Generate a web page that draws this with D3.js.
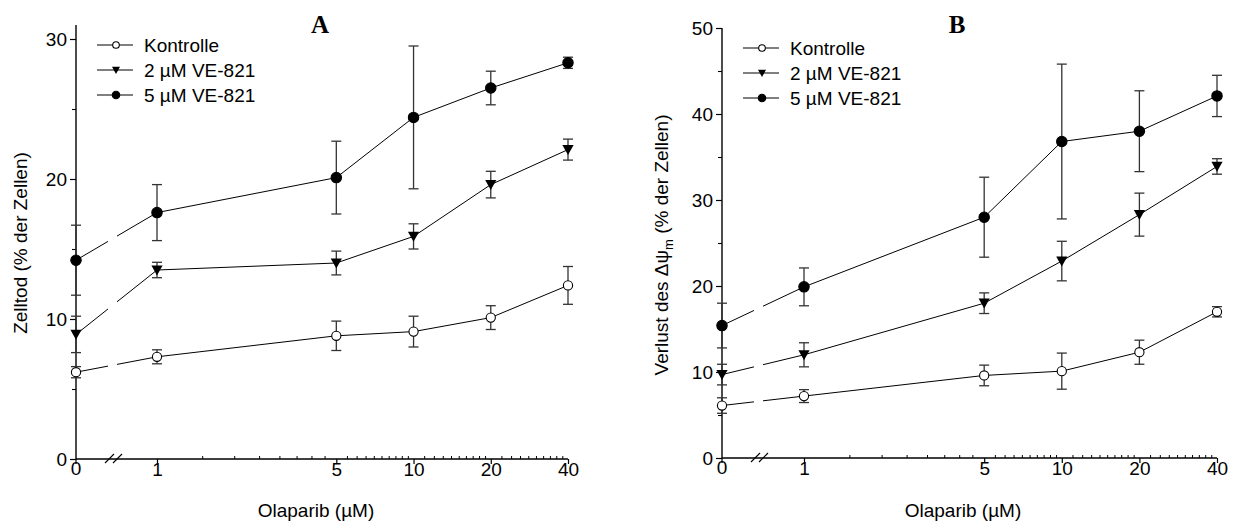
<!DOCTYPE html>
<html>
<head>
<meta charset="utf-8">
<script src="https://cdn.jsdelivr.net/npm/d3@7"></script>
<style>
  body { margin: 0; background: #fff; }
  text { font-family: "Liberation Sans", Arial, sans-serif; fill: #000; }
</style>
</head>
<body>
<div id="chart"></div>
<script>
"use strict";

// Olaparib doses (µM); 0 sits left of the axis break
const doses = [0, 1, 5, 10, 20, 40];
const seriesNames = ["Kontrolle", "2 µM VE-821", "5 µM VE-821"];
const xMajorTicks = [1, 5, 10, 20, 40];
const xMinorTicks = [1.5, 2, 2.5, 3, 3.5, 4, 4.5, 5.5, 6, 6.5, 7, 7.5, 8, 8.5, 9, 9.5,
  11, 12, 13, 14, 15, 16, 17, 18, 19, 22, 24, 26, 28, 30, 32, 34, 36, 38];

// panel A: Zelltod (% der Zellen)
const zelltodKontrolle = [6.2, 7.3, 8.8, 9.1, 10.1, 12.4];
const zelltodKontrolleSem = [0.4, 0.5, 1.05, 1.1, 0.85, 1.35];
const zelltod2uM = [8.9, 13.5, 14.0, 15.9, 19.6, 22.1];
const zelltod2uMSem = [1.3, 0.55, 0.85, 0.9, 0.95, 0.75];
const zelltod5uM = [14.2, 17.6, 20.1, 24.4, 26.5, 28.3];
const zelltod5uMSem = [2.5, 2.0, 2.6, 5.1, 1.2, 0.4];
const zelltodMajorTicks = [0, 10, 20, 30];
const zelltodMinorTicks = [5, 15, 25];

// panel B: Verlust des Δψm (% der Zellen)
const verlustKontrolle = [6.1, 7.2, 9.6, 10.1, 12.3, 17.0];
const verlustKontrolleSem = [0.9, 0.75, 1.2, 2.1, 1.4, 0.6];
const verlust2uM = [9.7, 12.0, 18.0, 22.9, 28.3, 33.9];
const verlust2uMSem = [1.2, 1.4, 1.2, 2.3, 2.5, 0.9];
const verlust5uM = [15.4, 19.9, 28.0, 36.8, 38.0, 42.1];
const verlust5uMSem = [2.6, 2.2, 4.65, 9.0, 4.7, 2.4];
const verlustMajorTicks = [0, 10, 20, 30, 40, 50];
const verlustMinorTicks = [5, 15, 25, 35, 45];

const W = 1234, H = 525;

const svg = d3.select("#chart").append("svg")
  .attr("width", W)
  .attr("height", H);

const markerKinds = ["open", "triangle", "filled"];

function drawMarker(g, kind, x, y, scale = 1) {
  if (kind === "triangle") {
    const a = 5.6 * scale, b = 4.6 * scale, c = 5.4 * scale;
    g.append("path")
      .attr("d", `M${x - a},${y - b}L${x + a},${y - b}L${x},${y + c}Z`)
      .attr("fill", "#000");
  } else {
    g.append("circle")
      .attr("cx", x).attr("cy", y)
      .attr("r", (kind === "open" ? 4.6 : 5.2) * scale)
      .attr("fill", kind === "open" ? "#fff" : "#000")
      .attr("stroke", "#000")
      .attr("stroke-width", 1.1);
  }
}

function drawPanel(cfg) {
  const g = svg.append("g");

  const xLog = d3.scaleLog().domain([1, 40]).range([cfg.x1, cfg.x40]);
  const xPos = d => d === 0 ? cfg.x0 : xLog(d);
  const y = d3.scaleLinear().domain([0, cfg.yTop]).range([cfg.y0, cfg.yTopPx]);
  const yEnd = cfg.yAxisMax;

  // y axis
  const yAx = g.append("g")
    .attr("transform", `translate(${cfg.x0},0)`)
    .call(d3.axisLeft(y).tickValues(cfg.yMajor).tickSize(6).tickSizeOuter(0));
  yAx.select(".domain").remove();
  yAx.selectAll("text").style("font-size", "19px").attr("fill", "#000");
  yAx.selectAll("line").attr("stroke-width", 1.2);
  const yMin = g.append("g")
    .attr("transform", `translate(${cfg.x0},0)`)
    .call(d3.axisLeft(y).tickValues(cfg.yMinor).tickSize(4).tickFormat(""));
  yMin.select(".domain").remove();
  yMin.selectAll("line").attr("stroke-width", 1.1);
  g.append("line")
    .attr("x1", cfg.x0).attr("x2", cfg.x0)
    .attr("y1", y(0)).attr("y2", y(yEnd))
    .attr("stroke", "#000").attr("stroke-width", 1.4);

  // x axis
  const xAx = g.append("g")
    .attr("transform", `translate(0,${cfg.y0})`)
    .call(d3.axisBottom(xLog).tickValues(xMajorTicks).tickSize(5).tickFormat(d3.format("d")));
  xAx.select(".domain").remove();
  xAx.selectAll("line").attr("stroke-width", 1.2);
  xAx.selectAll("text").style("font-size", "19px").attr("fill", "#000")
    .attr("y", 3).attr("dy", "0.71em");
  const xMin = g.append("g")
    .attr("transform", `translate(0,${cfg.y0})`)
    .call(d3.axisBottom(xLog).tickValues(xMinorTicks).tickSize(-3).tickFormat(""));
  xMin.select(".domain").remove();
  xMin.selectAll("line").attr("stroke-width", 1);
  // zero tick
  g.append("line")
    .attr("x1", cfg.x0).attr("x2", cfg.x0)
    .attr("y1", cfg.y0).attr("y2", cfg.y0 + 5)
    .attr("stroke", "#000").attr("stroke-width", 1.2);
  g.append("text")
    .attr("x", cfg.x0).attr("y", cfg.y0 + 3).attr("dy", "0.71em")
    .attr("text-anchor", "middle").style("font-size", "19px")
    .text("0");
  g.append("line")
    .attr("x1", cfg.x0).attr("x2", cfg.x40)
    .attr("y1", cfg.y0).attr("y2", cfg.y0)
    .attr("stroke", "#000").attr("stroke-width", 1.4);
  // axis break marks
  [29, 37].forEach(off => {
    g.append("line")
      .attr("x1", cfg.x0 + off).attr("y1", cfg.y0 + 4)
      .attr("x2", cfg.x0 + off + 9).attr("y2", cfg.y0 - 5)
      .attr("stroke", "#000").attr("stroke-width", 1.1);
  });

  // series
  cfg.series.forEach((s, si) => {
    const pts = doses.map((d, i) => [xPos(d), y(s.mean[i])]);
    // broken first segment across the axis break
    const [p0, p1] = [pts[0], pts[1]];
    const dx = p1[0] - p0[0];
    const len = Math.hypot(dx, p1[1] - p0[1]);
    const f1 = 32 / dx, f2 = 41 / dx;
    g.append("line")
      .attr("x1", p0[0]).attr("y1", p0[1])
      .attr("x2", p1[0]).attr("y2", p1[1])
      .attr("stroke", "#000").attr("stroke-width", 1)
      .attr("stroke-dasharray", `${f1 * len},${(f2 - f1) * len},${len}`);
    g.append("path")
      .attr("d", d3.line()(pts.slice(1)))
      .attr("fill", "none").attr("stroke", "#000").attr("stroke-width", 1);

    // error bars
    doses.forEach((d, i) => {
      const x = xPos(d);
      const yt = y(s.mean[i] + s.sem[i]);
      const yb = y(s.mean[i] - s.sem[i]);
      const eb = g.append("g").attr("stroke", "#333").attr("stroke-width", 1.3);
      eb.append("line").attr("x1", x).attr("x2", x).attr("y1", yt).attr("y2", yb);
      eb.append("line").attr("x1", x - 5).attr("x2", x + 5).attr("y1", yt).attr("y2", yt);
      eb.append("line").attr("x1", x - 5).attr("x2", x + 5).attr("y1", yb).attr("y2", yb);
    });
    pts.forEach(p => drawMarker(g, markerKinds[si], p[0], p[1]));
  });

  // legend
  seriesNames.forEach((name, i) => {
    const ly = cfg.legY + i * 25;
    g.append("line")
      .attr("x1", cfg.legX).attr("x2", cfg.legX + 36)
      .attr("y1", ly).attr("y2", ly)
      .attr("stroke", "#000").attr("stroke-width", 1);
    drawMarker(g, markerKinds[i], cfg.legX + 19, ly, 0.72);
    g.append("text")
      .attr("x", cfg.legX + 47).attr("y", ly + 7)
      .style("font-size", "19px")
      .text(name);
  });

  // panel letter
  g.append("text")
    .attr("x", cfg.letterX).attr("y", 33)
    .attr("text-anchor", "middle")
    .style("font-family", "'Liberation Serif', 'Times New Roman', serif")
    .style("font-size", "25px").style("font-weight", "bold")
    .text(cfg.letter);

  // x title
  g.append("text")
    .attr("x", cfg.xTitleX).attr("y", 517)
    .attr("text-anchor", "middle").style("font-size", "19px")
    .text("Olaparib (µM)");

  // y title
  const yt = g.append("text")
    .attr("transform", `translate(${cfg.yTitleX},${cfg.yTitleY}) rotate(-90)`)
    .attr("text-anchor", "middle").style("font-size", "19px");
  cfg.yTitle(yt);
}

drawPanel({
  letter: "A", letterX: 320,
  x0: 76, x1: 157, x40: 568,
  y0: 459, yTopPx: 39, yTop: 30, yAxisMax: 31,
  yMajor: zelltodMajorTicks, yMinor: zelltodMinorTicks,
  legX: 97, legY: 45,
  xTitleX: 316, yTitleX: 27, yTitleY: 243,
  yTitle: t => t.text("Zelltod (% der Zellen)"),
  series: [
    { mean: zelltodKontrolle, sem: zelltodKontrolleSem },
    { mean: zelltod2uM, sem: zelltod2uMSem },
    { mean: zelltod5uM, sem: zelltod5uMSem }
  ]
});

drawPanel({
  letter: "B", letterX: 957,
  x0: 722, x1: 804, x40: 1217,
  y0: 458, yTopPx: 28, yTop: 50, yAxisMax: 50,
  yMajor: verlustMajorTicks, yMinor: verlustMinorTicks,
  legX: 743, legY: 48,
  xTitleX: 963, yTitleX: 668, yTitleY: 245,
  yTitle: t => {
    t.append("tspan").text("Verlust des Δψ");
    t.append("tspan").attr("dy", 5).style("font-size", "13px").text("m");
    t.append("tspan").attr("dy", -5).text(" (% der Zellen)");
  },
  series: [
    { mean: verlustKontrolle, sem: verlustKontrolleSem },
    { mean: verlust2uM, sem: verlust2uMSem },
    { mean: verlust5uM, sem: verlust5uMSem }
  ]
});
</script>
</body>
</html>
